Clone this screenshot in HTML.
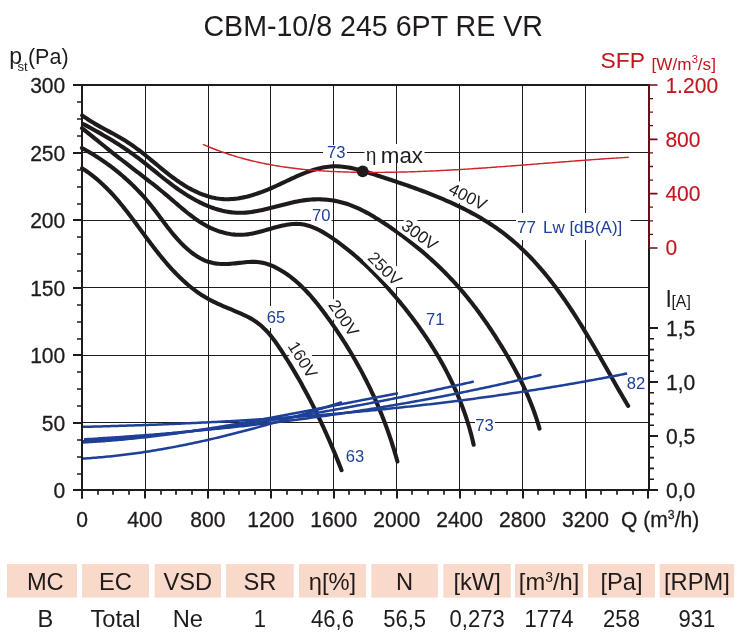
<!DOCTYPE html>
<html><head><meta charset="utf-8"><title>CBM-10/8 245 6PT RE VR</title>
<style>html,body{margin:0;padding:0;background:#fff;}body{width:740px;height:640px;overflow:hidden;}svg{display:block;}text{font-family:'Liberation Sans', Arial, sans-serif;}</style></head><body>
<svg width="740" height="640" viewBox="0 0 740 640">
<rect width="740" height="640" fill="#fff"/>
<text x="373.20" y="35.60" font-size="28.60" fill="#1f1b1c" text-anchor="middle">CBM-10/8 245 6PT RE VR</text>
<text x="9.30" y="64.00" font-size="23.00" fill="#1f1b1c">p<tspan font-size="13.2" dx="-4.6" dy="7.4">st</tspan><tspan font-size="21.5" dx="0.2" dy="-7.4">(Pa)</tspan></text>
<text transform="translate(600.50 68.30) scale(1.060 1)" font-size="21.60" fill="#c2161f">SFP<tspan font-size="16.2" dx="6.2" dy="1.2">[W/m</tspan><tspan font-size="10.5" dy="-7">3</tspan><tspan font-size="16.2" dy="7">/s]</tspan></text>
<path d="M145.5,85V490 M208.5,85V490 M270.5,85V490 M333.5,85V490 M396.5,85V490 M459.5,85V490 M522.5,85V490 M585.5,85V490 M82,152.5H649 M82,220.5H649 M82,287.5H649 M82,355.5H649 M82,422.5H649" stroke="#1f1b1c" stroke-width="1" fill="none"/>
<path d="M82.16,115.35 L83.78,116.54 L85.42,117.70 L87.08,118.82 L88.76,119.92 L90.45,121.00 L92.16,122.06 L93.88,123.09 L95.61,124.11 L97.36,125.12 L99.11,126.11 L100.87,127.08 L102.64,128.05 L104.41,129.02 L106.18,129.98 L107.96,130.93 L109.73,131.89 L111.50,132.85 L113.28,133.81 L115.04,134.78 L116.81,135.75 L118.56,136.74 L120.31,137.74 L122.04,138.76 L123.77,139.79 L125.48,140.84 L127.18,141.91 L128.86,143.01 L130.53,144.12 L132.18,145.26 L133.82,146.42 L135.45,147.60 L137.06,148.79 L138.67,150.00 L140.27,151.23 L141.85,152.46 L143.43,153.71 L145.01,154.97 L146.57,156.24 L148.14,157.51 L149.69,158.79 L151.25,160.08 L152.80,161.36 L154.35,162.65 L155.90,163.94 L157.46,165.23 L159.01,166.52 L160.57,167.80 L162.13,169.08 L163.69,170.35 L165.26,171.61 L166.83,172.87 L168.42,174.11 L170.01,175.34 L171.60,176.56 L173.21,177.76 L174.83,178.95 L176.46,180.12 L178.11,181.27 L179.77,182.40 L181.44,183.51 L183.12,184.59 L184.83,185.65 L186.55,186.68 L188.28,187.69 L190.03,188.66 L191.79,189.61 L193.57,190.52 L195.36,191.39 L197.16,192.23 L198.98,193.03 L200.81,193.79 L202.65,194.51 L204.51,195.18 L206.37,195.81 L208.25,196.39 L210.14,196.92 L212.04,197.40 L213.95,197.83 L215.87,198.20 L217.81,198.52 L219.75,198.78 L221.70,198.98 L223.66,199.12 L225.62,199.19 L227.60,199.21 L229.58,199.16 L231.57,199.06 L233.56,198.91 L235.56,198.70 L237.56,198.44 L239.56,198.13 L241.56,197.77 L243.56,197.37 L245.56,196.93 L247.56,196.45 L249.55,195.92 L251.54,195.36 L253.52,194.77 L255.50,194.15 L257.47,193.49 L259.43,192.81 L261.38,192.10 L263.32,191.37 L265.25,190.62 L267.17,189.84 L269.08,189.05 L270.96,188.25 L272.84,187.43 L274.70,186.59 L276.54,185.75 L278.38,184.91 L280.21,184.05 L282.02,183.20 L283.84,182.34 L285.64,181.48 L287.45,180.63 L289.25,179.78 L291.05,178.93 L292.85,178.10 L294.65,177.27 L296.46,176.46 L298.27,175.66 L300.09,174.88 L301.92,174.11 L303.76,173.37 L305.61,172.65 L307.47,171.95 L309.35,171.28 L311.24,170.64 L313.14,170.03 L315.05,169.45 L316.98,168.92 L318.91,168.42 L320.85,167.97 L322.80,167.57 L324.76,167.22 L326.72,166.92 L328.69,166.68 L330.66,166.49 L332.63,166.37 L334.61,166.31 L336.59,166.32 L338.57,166.39 L340.55,166.51 L342.53,166.69 L344.51,166.92 L346.50,167.20 L348.48,167.52 L350.46,167.89 L352.44,168.29 L354.42,168.73 L356.39,169.21 L358.37,169.71 L360.34,170.24 L362.31,170.79 L364.27,171.36 L366.24,171.95 L368.19,172.56 L370.15,173.17 L372.10,173.79 L374.04,174.42 L375.98,175.05 L377.92,175.68 L379.84,176.31 L381.77,176.93 L383.68,177.56 L385.60,178.18 L387.50,178.81 L389.41,179.44 L391.31,180.06 L393.20,180.69 L395.10,181.32 L396.98,181.95 L398.87,182.59 L400.75,183.22 L402.63,183.87 L404.51,184.51 L406.38,185.16 L408.26,185.81 L410.13,186.46 L411.99,187.13 L413.86,187.79 L415.73,188.46 L417.59,189.14 L419.46,189.83 L421.32,190.52 L423.19,191.22 L425.05,191.92 L426.91,192.64 L428.78,193.36 L430.64,194.09 L432.51,194.83 L434.37,195.58 L436.23,196.33 L438.10,197.10 L439.96,197.88 L441.82,198.66 L443.68,199.46 L445.54,200.26 L447.39,201.08 L449.24,201.90 L451.09,202.73 L452.94,203.58 L454.78,204.43 L456.62,205.30 L458.45,206.17 L460.28,207.06 L462.10,207.96 L463.92,208.87 L465.73,209.79 L467.53,210.72 L469.33,211.66 L471.12,212.62 L472.91,213.59 L474.69,214.56 L476.46,215.55 L478.22,216.56 L479.97,217.57 L481.72,218.60 L483.45,219.64 L485.18,220.69 L486.89,221.76 L488.60,222.84 L490.29,223.93 L491.98,225.04 L493.65,226.15 L495.31,227.29 L496.96,228.43 L498.60,229.59 L500.22,230.77 L501.84,231.95 L503.43,233.16 L505.02,234.37 L506.59,235.60 L508.15,236.85 L509.70,238.10 L511.24,239.38 L512.76,240.66 L514.27,241.96 L515.77,243.26 L517.26,244.59 L518.74,245.92 L520.20,247.27 L521.66,248.63 L523.10,250.00 L524.53,251.38 L525.95,252.77 L527.36,254.18 L528.76,255.59 L530.14,257.02 L531.52,258.46 L532.89,259.91 L534.24,261.36 L535.59,262.83 L536.93,264.31 L538.26,265.80 L539.57,267.30 L540.88,268.81 L542.18,270.32 L543.47,271.85 L544.75,273.38 L546.02,274.93 L547.29,276.48 L548.54,278.04 L549.79,279.61 L551.02,281.19 L552.25,282.77 L553.47,284.37 L554.69,285.97 L555.89,287.58 L557.09,289.19 L558.28,290.81 L559.46,292.44 L560.64,294.08 L561.81,295.72 L562.97,297.37 L564.13,299.02 L565.27,300.68 L566.41,302.34 L567.55,304.02 L568.68,305.69 L569.80,307.37 L570.92,309.06 L572.03,310.75 L573.13,312.45 L574.23,314.15 L575.33,315.85 L576.42,317.56 L577.50,319.27 L578.58,320.99 L579.65,322.71 L580.72,324.43 L581.79,326.16 L582.84,327.89 L583.90,329.62 L584.95,331.36 L586.00,333.10 L587.04,334.84 L588.08,336.58 L589.12,338.32 L590.15,340.07 L591.18,341.81 L592.20,343.56 L593.23,345.31 L594.25,347.06 L595.26,348.81 L596.28,350.57 L597.29,352.32 L598.30,354.07 L599.30,355.82 L600.31,357.58 L601.31,359.33 L602.31,361.08 L603.31,362.83 L604.31,364.59 L605.30,366.34 L606.30,368.08 L607.29,369.83 L608.29,371.58 L609.28,373.32 L610.27,375.06 L611.26,376.81 L612.25,378.54 L613.24,380.28 L614.23,382.01 L615.22,383.74 L616.20,385.47 L617.19,387.19 L618.18,388.92 L619.17,390.63 L620.17,392.35 L621.16,394.06 L622.15,395.76 L623.14,397.46 L624.14,399.16 L625.13,400.85 L626.13,402.54 L627.13,404.23 L628.13,405.90" stroke="#1f1b1c" stroke-width="4.1" fill="none" stroke-linecap="round" stroke-linejoin="round"/>
<path d="M83.57,124.19 L85.35,125.14 L87.12,126.09 L88.89,127.04 L90.66,128.00 L92.43,128.97 L94.19,129.94 L95.95,130.92 L97.70,131.90 L99.45,132.89 L101.20,133.89 L102.94,134.90 L104.68,135.91 L106.41,136.93 L108.14,137.95 L109.86,138.99 L111.57,140.03 L113.28,141.08 L114.99,142.14 L116.69,143.20 L118.38,144.28 L120.06,145.36 L121.74,146.46 L123.41,147.56 L125.08,148.68 L126.73,149.80 L128.38,150.94 L130.02,152.08 L131.66,153.24 L133.28,154.41 L134.90,155.59 L136.50,156.78 L138.10,157.98 L139.69,159.19 L141.27,160.41 L142.85,161.64 L144.42,162.88 L145.99,164.13 L147.55,165.38 L149.11,166.63 L150.67,167.89 L152.23,169.16 L153.79,170.42 L155.35,171.69 L156.90,172.95 L158.47,174.22 L160.03,175.48 L161.60,176.74 L163.17,177.99 L164.75,179.24 L166.34,180.49 L167.93,181.73 L169.54,182.96 L171.15,184.18 L172.77,185.39 L174.40,186.59 L176.04,187.78 L177.70,188.96 L179.37,190.12 L181.05,191.27 L182.74,192.40 L184.45,193.52 L186.16,194.61 L187.89,195.69 L189.63,196.75 L191.38,197.78 L193.14,198.79 L194.90,199.77 L196.68,200.73 L198.47,201.66 L200.27,202.56 L202.08,203.44 L203.90,204.28 L205.72,205.09 L207.56,205.87 L209.40,206.61 L211.25,207.31 L213.11,207.98 L214.97,208.62 L216.84,209.21 L218.72,209.76 L220.61,210.27 L222.50,210.74 L224.40,211.16 L226.31,211.54 L228.22,211.87 L230.14,212.16 L232.06,212.39 L233.99,212.57 L235.92,212.71 L237.86,212.79 L239.80,212.81 L241.75,212.79 L243.70,212.71 L245.65,212.58 L247.61,212.41 L249.57,212.19 L251.54,211.93 L253.51,211.64 L255.48,211.31 L257.45,210.95 L259.43,210.56 L261.41,210.14 L263.39,209.71 L265.38,209.25 L267.37,208.77 L269.36,208.28 L271.35,207.77 L273.34,207.26 L275.34,206.74 L277.34,206.22 L279.34,205.70 L281.34,205.17 L283.34,204.66 L285.34,204.15 L287.34,203.65 L289.35,203.17 L291.35,202.70 L293.36,202.25 L295.36,201.82 L297.37,201.42 L299.38,201.04 L301.38,200.70 L303.39,200.38 L305.39,200.11 L307.40,199.87 L309.40,199.67 L311.40,199.52 L313.40,199.41 L315.40,199.33 L317.40,199.30 L319.39,199.32 L321.38,199.37 L323.36,199.46 L325.34,199.60 L327.32,199.77 L329.28,199.99 L331.24,200.25 L333.20,200.55 L335.14,200.89 L337.08,201.27 L339.01,201.69 L340.92,202.16 L342.83,202.66 L344.73,203.21 L346.62,203.79 L348.49,204.42 L350.35,205.08 L352.20,205.79 L354.04,206.53 L355.87,207.30 L357.69,208.11 L359.50,208.95 L361.30,209.82 L363.09,210.72 L364.87,211.64 L366.64,212.59 L368.40,213.56 L370.15,214.55 L371.90,215.57 L373.64,216.60 L375.37,217.64 L377.09,218.70 L378.81,219.78 L380.52,220.86 L382.22,221.96 L383.91,223.06 L385.61,224.17 L387.29,225.29 L388.97,226.42 L390.64,227.55 L392.31,228.69 L393.96,229.84 L395.62,231.00 L397.26,232.17 L398.90,233.34 L400.54,234.53 L402.16,235.72 L403.78,236.92 L405.39,238.12 L407.00,239.34 L408.60,240.56 L410.19,241.79 L411.77,243.03 L413.35,244.28 L414.92,245.53 L416.48,246.80 L418.04,248.07 L419.59,249.35 L421.13,250.63 L422.66,251.93 L424.19,253.23 L425.70,254.54 L427.22,255.86 L428.72,257.19 L430.21,258.52 L431.70,259.86 L433.18,261.22 L434.65,262.58 L436.11,263.94 L437.57,265.32 L439.01,266.70 L440.45,268.09 L441.88,269.49 L443.30,270.90 L444.72,272.31 L446.12,273.74 L447.52,275.17 L448.90,276.61 L450.28,278.05 L451.65,279.51 L453.01,280.97 L454.37,282.44 L455.71,283.92 L457.05,285.41 L458.37,286.90 L459.69,288.40 L461.00,289.91 L462.30,291.43 L463.59,292.95 L464.88,294.48 L466.16,296.02 L467.42,297.57 L468.68,299.12 L469.93,300.69 L471.18,302.25 L472.41,303.83 L473.64,305.41 L474.86,307.00 L476.07,308.60 L477.27,310.20 L478.47,311.81 L479.65,313.43 L480.83,315.05 L482.00,316.68 L483.17,318.32 L484.32,319.96 L485.47,321.61 L486.61,323.26 L487.75,324.92 L488.87,326.59 L489.99,328.26 L491.11,329.94 L492.22,331.61 L493.32,333.30 L494.41,334.98 L495.50,336.67 L496.59,338.37 L497.66,340.06 L498.74,341.76 L499.80,343.47 L500.87,345.17 L501.92,346.88 L502.97,348.59 L504.01,350.31 L505.04,352.03 L506.07,353.75 L507.09,355.47 L508.11,357.20 L509.11,358.94 L510.11,360.67 L511.10,362.42 L512.08,364.16 L513.05,365.91 L514.01,367.67 L514.97,369.42 L515.91,371.19 L516.85,372.96 L517.77,374.73 L518.69,376.51 L519.60,378.29 L520.49,380.08 L521.38,381.87 L522.25,383.67 L523.12,385.47 L523.97,387.28 L524.81,389.09 L525.64,390.91 L526.46,392.74 L527.27,394.57 L528.06,396.41 L528.84,398.25 L529.61,400.10 L530.37,401.96 L531.11,403.82 L531.84,405.69 L532.56,407.56 L533.26,409.45 L533.95,411.33 L534.63,413.23 L535.29,415.13 L535.94,417.04 L536.57,418.96 L537.18,420.88 L537.79,422.81 L538.37,424.75 L538.95,426.70 L539.50,428.65" stroke="#1f1b1c" stroke-width="4.1" fill="none" stroke-linecap="round" stroke-linejoin="round"/>
<path d="M81.98,128.17 L83.52,129.42 L85.07,130.67 L86.62,131.92 L88.17,133.18 L89.73,134.43 L91.28,135.69 L92.85,136.95 L94.41,138.20 L95.97,139.46 L97.54,140.72 L99.11,141.98 L100.68,143.24 L102.25,144.50 L103.83,145.76 L105.40,147.02 L106.98,148.27 L108.56,149.53 L110.13,150.78 L111.71,152.04 L113.30,153.29 L114.88,154.54 L116.46,155.78 L118.04,157.03 L119.63,158.27 L121.21,159.51 L122.79,160.75 L124.38,161.98 L125.96,163.21 L127.55,164.44 L129.13,165.67 L130.71,166.89 L132.30,168.11 L133.88,169.33 L135.46,170.54 L137.04,171.76 L138.62,172.97 L140.20,174.19 L141.78,175.40 L143.35,176.62 L144.93,177.84 L146.50,179.06 L148.08,180.29 L149.65,181.52 L151.22,182.75 L152.79,183.98 L154.35,185.22 L155.92,186.47 L157.48,187.72 L159.04,188.98 L160.60,190.24 L162.16,191.51 L163.71,192.79 L165.26,194.08 L166.81,195.38 L168.36,196.68 L169.90,198.00 L171.45,199.32 L172.99,200.64 L174.53,201.97 L176.08,203.30 L177.62,204.63 L179.17,205.96 L180.73,207.28 L182.28,208.59 L183.85,209.90 L185.42,211.19 L187.00,212.47 L188.58,213.73 L190.18,214.97 L191.79,216.20 L193.41,217.40 L195.04,218.58 L196.68,219.74 L198.34,220.86 L200.01,221.96 L201.70,223.02 L203.40,224.05 L205.13,225.04 L206.87,226.00 L208.63,226.91 L210.41,227.79 L212.21,228.61 L214.03,229.40 L215.87,230.13 L217.72,230.82 L219.59,231.46 L221.48,232.04 L223.38,232.58 L225.29,233.06 L227.21,233.48 L229.15,233.85 L231.09,234.16 L233.05,234.41 L235.01,234.60 L236.98,234.73 L238.95,234.79 L240.94,234.78 L242.92,234.71 L244.91,234.57 L246.90,234.37 L248.89,234.10 L250.88,233.77 L252.88,233.39 L254.87,232.97 L256.87,232.51 L258.86,232.01 L260.86,231.49 L262.85,230.94 L264.85,230.38 L266.84,229.81 L268.83,229.23 L270.82,228.66 L272.81,228.09 L274.79,227.54 L276.77,227.00 L278.75,226.49 L280.72,226.01 L282.68,225.56 L284.64,225.16 L286.60,224.80 L288.55,224.49 L290.49,224.24 L292.42,224.06 L294.35,223.94 L296.26,223.90 L298.17,223.94 L300.06,224.07 L301.95,224.28 L303.83,224.59 L305.69,224.98 L307.55,225.46 L309.39,226.01 L311.22,226.63 L313.04,227.32 L314.85,228.07 L316.65,228.89 L318.44,229.76 L320.21,230.68 L321.98,231.64 L323.73,232.65 L325.47,233.69 L327.20,234.77 L328.92,235.88 L330.63,237.01 L332.32,238.15 L334.01,239.32 L335.68,240.49 L337.34,241.68 L338.98,242.88 L340.62,244.09 L342.24,245.31 L343.85,246.54 L345.46,247.78 L347.05,249.04 L348.63,250.30 L350.19,251.58 L351.75,252.86 L353.30,254.16 L354.84,255.46 L356.37,256.78 L357.88,258.10 L359.39,259.44 L360.89,260.78 L362.38,262.13 L363.85,263.49 L365.32,264.86 L366.78,266.24 L368.23,267.63 L369.68,269.03 L371.11,270.43 L372.53,271.84 L373.95,273.27 L375.36,274.69 L376.76,276.13 L378.15,277.58 L379.54,279.03 L380.91,280.49 L382.28,281.95 L383.64,283.42 L384.99,284.90 L386.34,286.39 L387.68,287.88 L389.01,289.38 L390.34,290.89 L391.66,292.40 L392.97,293.92 L394.28,295.44 L395.58,296.97 L396.87,298.51 L398.16,300.05 L399.44,301.59 L400.72,303.14 L401.99,304.70 L403.25,306.26 L404.51,307.83 L405.76,309.40 L407.00,310.98 L408.24,312.56 L409.47,314.15 L410.70,315.74 L411.91,317.34 L413.12,318.94 L414.32,320.55 L415.52,322.17 L416.70,323.79 L417.88,325.41 L419.05,327.05 L420.22,328.68 L421.37,330.32 L422.52,331.97 L423.66,333.62 L424.79,335.28 L425.92,336.95 L427.03,338.62 L428.14,340.29 L429.23,341.97 L430.32,343.65 L431.40,345.34 L432.47,347.04 L433.54,348.74 L434.59,350.45 L435.63,352.16 L436.67,353.88 L437.69,355.60 L438.71,357.33 L439.71,359.06 L440.71,360.80 L441.69,362.55 L442.67,364.30 L443.63,366.05 L444.59,367.81 L445.53,369.58 L446.47,371.35 L447.39,373.13 L448.30,374.91 L449.21,376.70 L450.10,378.49 L450.98,380.29 L451.85,382.10 L452.71,383.91 L453.55,385.72 L454.39,387.54 L455.21,389.37 L456.02,391.20 L456.83,393.04 L457.61,394.88 L458.39,396.73 L459.16,398.58 L459.91,400.44 L460.65,402.31 L461.38,404.18 L462.09,406.05 L462.80,407.93 L463.49,409.82 L464.17,411.71 L464.83,413.61 L465.48,415.51 L466.12,417.42 L466.75,419.33 L467.36,421.25 L467.96,423.18 L468.55,425.11 L469.12,427.04 L469.68,428.99 L470.22,430.93 L470.75,432.88 L471.27,434.84 L471.77,436.81 L472.26,438.77 L472.73,440.75 L473.19,442.73 L473.64,444.71" stroke="#1f1b1c" stroke-width="4.1" fill="none" stroke-linecap="round" stroke-linejoin="round"/>
<path d="M81.97,147.98 L83.74,148.96 L85.51,149.95 L87.27,150.95 L89.02,151.97 L90.75,153.00 L92.48,154.05 L94.20,155.11 L95.91,156.18 L97.60,157.27 L99.29,158.37 L100.97,159.48 L102.63,160.61 L104.29,161.75 L105.93,162.91 L107.57,164.08 L109.19,165.26 L110.80,166.46 L112.40,167.67 L113.99,168.89 L115.57,170.13 L117.13,171.38 L118.69,172.65 L120.23,173.92 L121.76,175.22 L123.28,176.52 L124.79,177.84 L126.29,179.17 L127.77,180.52 L129.25,181.88 L130.71,183.25 L132.15,184.64 L133.59,186.04 L135.01,187.45 L136.42,188.88 L137.82,190.32 L139.21,191.77 L140.58,193.24 L141.94,194.72 L143.28,196.21 L144.62,197.72 L145.94,199.24 L147.24,200.77 L148.54,202.31 L149.81,203.87 L151.08,205.44 L152.34,207.03 L153.58,208.62 L154.81,210.22 L156.04,211.83 L157.26,213.45 L158.48,215.07 L159.69,216.69 L160.91,218.31 L162.12,219.94 L163.33,221.56 L164.55,223.18 L165.77,224.80 L167.00,226.41 L168.24,228.01 L169.49,229.61 L170.74,231.19 L172.01,232.76 L173.30,234.32 L174.59,235.87 L175.91,237.40 L177.24,238.92 L178.60,240.41 L179.97,241.88 L181.37,243.34 L182.80,244.77 L184.25,246.17 L185.72,247.55 L187.23,248.91 L188.77,250.23 L190.34,251.52 L191.93,252.77 L193.56,253.98 L195.22,255.14 L196.90,256.25 L198.61,257.30 L200.35,258.29 L202.11,259.21 L203.90,260.05 L205.72,260.82 L207.56,261.50 L209.42,262.09 L211.30,262.60 L213.21,263.02 L215.14,263.36 L217.08,263.62 L219.04,263.81 L221.02,263.93 L223.00,264.00 L225.00,264.00 L227.01,263.96 L229.03,263.87 L231.05,263.73 L233.08,263.56 L235.11,263.36 L237.15,263.14 L239.18,262.91 L241.21,262.67 L243.24,262.45 L245.26,262.24 L247.28,262.07 L249.29,261.93 L251.29,261.85 L253.28,261.82 L255.25,261.86 L257.22,261.98 L259.16,262.20 L261.09,262.50 L263.00,262.88 L264.89,263.34 L266.77,263.88 L268.63,264.50 L270.47,265.18 L272.28,265.92 L274.08,266.72 L275.86,267.58 L277.62,268.48 L279.35,269.44 L281.07,270.43 L282.76,271.47 L284.43,272.53 L286.08,273.63 L287.71,274.77 L289.31,275.93 L290.90,277.13 L292.46,278.35 L294.01,279.61 L295.53,280.89 L297.04,282.19 L298.53,283.53 L300.00,284.88 L301.45,286.27 L302.89,287.67 L304.30,289.10 L305.71,290.54 L307.10,292.01 L308.47,293.49 L309.83,294.99 L311.17,296.51 L312.50,298.05 L313.81,299.60 L315.12,301.16 L316.41,302.74 L317.69,304.33 L318.95,305.93 L320.21,307.54 L321.45,309.16 L322.69,310.79 L323.91,312.42 L325.13,314.06 L326.34,315.71 L327.53,317.36 L328.72,319.02 L329.91,320.67 L331.08,322.33 L332.25,324.00 L333.41,325.66 L334.56,327.33 L335.70,329.00 L336.84,330.68 L337.96,332.36 L339.08,334.04 L340.20,335.72 L341.30,337.41 L342.40,339.10 L343.48,340.80 L344.56,342.50 L345.64,344.20 L346.70,345.90 L347.76,347.61 L348.80,349.32 L349.85,351.04 L350.88,352.75 L351.90,354.48 L352.92,356.20 L353.93,357.93 L354.93,359.66 L355.92,361.40 L356.90,363.14 L357.88,364.89 L358.85,366.63 L359.81,368.38 L360.76,370.14 L361.71,371.90 L362.64,373.66 L363.57,375.43 L364.49,377.20 L365.40,378.98 L366.31,380.75 L367.20,382.54 L368.09,384.32 L368.97,386.11 L369.84,387.91 L370.71,389.71 L371.56,391.51 L372.41,393.32 L373.25,395.13 L374.08,396.95 L374.90,398.77 L375.71,400.59 L376.52,402.42 L377.32,404.26 L378.11,406.09 L378.89,407.94 L379.66,409.78 L380.43,411.63 L381.19,413.49 L381.93,415.35 L382.67,417.22 L383.41,419.09 L384.13,420.96 L384.85,422.84 L385.55,424.72 L386.25,426.61 L386.94,428.50 L387.63,430.40 L388.30,432.31 L388.97,434.21 L389.62,436.13 L390.27,438.04 L390.91,439.97 L391.55,441.89 L392.17,443.83 L392.79,445.76 L393.39,447.71 L393.99,449.65 L394.58,451.61 L395.16,453.57 L395.74,455.53 L396.30,457.50 L396.86,459.47 L397.41,461.45" stroke="#1f1b1c" stroke-width="4.1" fill="none" stroke-linecap="round" stroke-linejoin="round"/>
<path d="M82.03,168.28 L83.78,169.41 L85.51,170.56 L87.21,171.73 L88.88,172.92 L90.52,174.14 L92.14,175.37 L93.74,176.62 L95.31,177.90 L96.86,179.19 L98.39,180.49 L99.90,181.82 L101.39,183.16 L102.85,184.52 L104.30,185.89 L105.73,187.28 L107.14,188.69 L108.54,190.11 L109.91,191.54 L111.28,192.99 L112.62,194.45 L113.96,195.93 L115.28,197.41 L116.59,198.91 L117.88,200.42 L119.17,201.94 L120.44,203.47 L121.70,205.01 L122.96,206.56 L124.20,208.12 L125.44,209.68 L126.68,211.26 L127.90,212.84 L129.12,214.43 L130.34,216.03 L131.55,217.63 L132.75,219.24 L133.96,220.85 L135.16,222.47 L136.36,224.09 L137.57,225.72 L138.77,227.35 L139.97,228.98 L141.17,230.61 L142.38,232.25 L143.59,233.88 L144.80,235.52 L146.01,237.16 L147.23,238.79 L148.45,240.43 L149.67,242.06 L150.90,243.68 L152.14,245.31 L153.38,246.93 L154.62,248.55 L155.87,250.16 L157.13,251.76 L158.40,253.36 L159.67,254.95 L160.95,256.53 L162.24,258.10 L163.53,259.67 L164.84,261.22 L166.16,262.76 L167.48,264.29 L168.82,265.81 L170.16,267.32 L171.52,268.82 L172.89,270.30 L174.27,271.76 L175.66,273.21 L177.07,274.65 L178.48,276.06 L179.91,277.47 L181.36,278.85 L182.82,280.21 L184.29,281.56 L185.78,282.89 L187.29,284.19 L188.81,285.48 L190.34,286.74 L191.90,287.98 L193.47,289.20 L195.05,290.40 L196.66,291.57 L198.28,292.71 L199.93,293.84 L201.59,294.93 L203.27,296.00 L204.97,297.04 L206.69,298.05 L208.43,299.04 L210.19,299.99 L211.97,300.92 L213.77,301.82 L215.59,302.70 L217.42,303.56 L219.26,304.40 L221.11,305.23 L222.97,306.04 L224.84,306.84 L226.71,307.63 L228.59,308.42 L230.46,309.20 L232.34,309.98 L234.21,310.77 L236.07,311.55 L237.93,312.35 L239.79,313.15 L241.63,313.96 L243.45,314.79 L245.26,315.64 L247.05,316.51 L248.82,317.42 L250.56,318.36 L252.27,319.35 L253.95,320.38 L255.59,321.46 L257.19,322.60 L258.75,323.79 L260.28,325.03 L261.77,326.31 L263.23,327.65 L264.65,329.02 L266.05,330.44 L267.41,331.90 L268.74,333.39 L270.04,334.92 L271.31,336.48 L272.56,338.07 L273.78,339.68 L274.99,341.32 L276.17,342.98 L277.33,344.65 L278.48,346.34 L279.62,348.03 L280.75,349.73 L281.87,351.44 L282.98,353.15 L284.08,354.86 L285.18,356.57 L286.27,358.29 L287.35,360.01 L288.42,361.73 L289.49,363.45 L290.55,365.18 L291.60,366.91 L292.64,368.64 L293.68,370.38 L294.71,372.12 L295.74,373.86 L296.75,375.61 L297.76,377.35 L298.76,379.10 L299.76,380.86 L300.75,382.61 L301.73,384.37 L302.71,386.13 L303.67,387.90 L304.64,389.66 L305.59,391.43 L306.54,393.21 L307.49,394.98 L308.42,396.76 L309.36,398.54 L310.28,400.33 L311.20,402.11 L312.11,403.90 L313.02,405.70 L313.92,407.49 L314.82,409.29 L315.71,411.09 L316.59,412.89 L317.47,414.70 L318.34,416.51 L319.21,418.32 L320.07,420.13 L320.93,421.95 L321.78,423.77 L322.63,425.59 L323.47,427.42 L324.31,429.25 L325.14,431.08 L325.96,432.91 L326.78,434.75 L327.60,436.59 L328.41,438.43 L329.22,440.28 L330.02,442.12 L330.82,443.98 L331.61,445.83 L332.40,447.68 L333.18,449.54 L333.96,451.40 L334.74,453.27 L335.51,455.14 L336.28,457.01 L337.04,458.88 L337.80,460.75 L338.55,462.63 L339.30,464.51 L340.05,466.39 L340.79,468.28 L341.53,470.17" stroke="#1f1b1c" stroke-width="4.1" fill="none" stroke-linecap="round" stroke-linejoin="round"/>
<path d="M202.83,144.32 L204.71,145.14 L206.59,145.94 L208.47,146.73 L210.36,147.51 L212.25,148.27 L214.15,149.01 L216.05,149.74 L217.95,150.46 L219.85,151.16 L221.76,151.84 L223.67,152.51 L225.58,153.17 L227.49,153.81 L229.41,154.44 L231.33,155.05 L233.25,155.65 L235.18,156.24 L237.10,156.82 L239.03,157.38 L240.97,157.92 L242.90,158.46 L244.84,158.98 L246.78,159.49 L248.72,159.99 L250.66,160.47 L252.61,160.94 L254.56,161.40 L256.51,161.85 L258.46,162.29 L260.42,162.71 L262.38,163.12 L264.33,163.53 L266.30,163.92 L268.26,164.30 L270.22,164.66 L272.19,165.02 L274.16,165.37 L276.13,165.71 L278.10,166.03 L280.07,166.35 L282.05,166.65 L284.03,166.95 L286.00,167.24 L287.99,167.51 L289.97,167.78 L291.95,168.04 L293.93,168.29 L295.92,168.53 L297.91,168.76 L299.90,168.98 L301.89,169.19 L303.88,169.40 L305.87,169.60 L307.86,169.78 L309.86,169.97 L311.85,170.14 L313.85,170.30 L315.85,170.46 L317.85,170.61 L319.85,170.75 L321.85,170.89 L323.85,171.02 L325.85,171.14 L327.85,171.26 L329.86,171.37 L331.86,171.47 L333.87,171.56 L335.87,171.65 L337.88,171.74 L339.89,171.82 L341.89,171.89 L343.90,171.96 L345.91,172.02 L347.92,172.08 L349.93,172.13 L351.94,172.17 L353.95,172.22 L355.96,172.25 L357.97,172.29 L359.98,172.31 L361.99,172.34 L364.00,172.36 L366.01,172.37 L368.02,172.39 L370.03,172.39 L372.04,172.40 L374.06,172.40 L376.07,172.40 L378.08,172.39 L380.09,172.38 L382.10,172.37 L384.11,172.35 L386.12,172.33 L388.14,172.30 L390.15,172.27 L392.16,172.24 L394.17,172.21 L396.18,172.17 L398.19,172.13 L400.21,172.08 L402.22,172.04 L404.23,171.99 L406.24,171.93 L408.25,171.88 L410.26,171.82 L412.28,171.75 L414.29,171.69 L416.30,171.62 L418.31,171.55 L420.32,171.47 L422.34,171.40 L424.35,171.32 L426.36,171.23 L428.37,171.15 L430.38,171.06 L432.39,170.97 L434.41,170.88 L436.42,170.79 L438.43,170.69 L440.44,170.59 L442.45,170.49 L444.46,170.38 L446.48,170.28 L448.49,170.17 L450.50,170.06 L452.51,169.95 L454.52,169.83 L456.53,169.72 L458.54,169.60 L460.55,169.48 L462.56,169.36 L464.58,169.23 L466.59,169.11 L468.60,168.98 L470.61,168.85 L472.62,168.72 L474.63,168.59 L476.64,168.45 L478.65,168.32 L480.66,168.18 L482.67,168.05 L484.68,167.91 L486.69,167.77 L488.70,167.62 L490.70,167.48 L492.71,167.34 L494.72,167.19 L496.73,167.05 L498.74,166.90 L500.75,166.75 L502.76,166.60 L504.77,166.45 L506.77,166.30 L508.78,166.15 L510.79,166.00 L512.80,165.84 L514.80,165.69 L516.81,165.53 L518.82,165.38 L520.82,165.22 L522.83,165.07 L524.84,164.91 L526.84,164.75 L528.85,164.60 L530.86,164.44 L532.86,164.28 L534.87,164.12 L536.87,163.96 L538.88,163.81 L540.88,163.65 L542.89,163.49 L544.89,163.33 L546.89,163.17 L548.90,163.01 L550.90,162.85 L552.90,162.70 L554.91,162.54 L556.91,162.38 L558.91,162.22 L560.91,162.07 L562.92,161.91 L564.92,161.75 L566.92,161.60 L568.92,161.44 L570.92,161.29 L572.92,161.13 L574.92,160.98 L576.92,160.83 L578.92,160.68 L580.92,160.52 L582.92,160.37 L584.92,160.23 L586.92,160.08 L588.92,159.93 L590.91,159.78 L592.91,159.64 L594.91,159.49 L596.91,159.35 L598.90,159.21 L600.90,159.07 L602.89,158.93 L604.89,158.79 L606.88,158.65 L608.88,158.52 L610.87,158.38 L612.87,158.25 L614.86,158.12 L616.85,157.99 L618.85,157.87 L620.84,157.74 L622.83,157.62 L624.82,157.49 L626.82,157.37 L628.81,157.25" stroke="#cf2229" stroke-width="1.45" fill="none"/>
<path d="M81.48,426.89 L83.49,426.84 L85.50,426.80 L87.51,426.75 L89.52,426.70 L91.53,426.65 L93.54,426.60 L95.55,426.55 L97.56,426.49 L99.57,426.44 L101.58,426.39 L103.59,426.33 L105.60,426.28 L107.61,426.22 L109.62,426.16 L111.63,426.11 L113.64,426.05 L115.65,425.99 L117.66,425.93 L119.68,425.87 L121.69,425.81 L123.70,425.74 L125.71,425.68 L127.72,425.62 L129.73,425.55 L131.74,425.48 L133.75,425.42 L135.76,425.35 L137.77,425.28 L139.78,425.21 L141.79,425.14 L143.80,425.07 L145.81,425.00 L147.82,424.93 L149.83,424.85 L151.84,424.78 L153.85,424.70 L155.86,424.63 L157.87,424.55 L159.88,424.47 L161.88,424.39 L163.89,424.31 L165.90,424.23 L167.91,424.15 L169.92,424.07 L171.93,423.98 L173.94,423.90 L175.95,423.81 L177.96,423.73 L179.97,423.64 L181.98,423.55 L183.99,423.46 L186.00,423.37 L188.01,423.28 L190.02,423.19 L192.03,423.10 L194.03,423.00 L196.04,422.91 L198.05,422.81 L200.06,422.71 L202.07,422.62 L204.08,422.52 L206.09,422.42 L208.10,422.32 L210.10,422.22 L212.11,422.11 L214.12,422.01 L216.13,421.90 L218.14,421.80 L220.15,421.69 L222.15,421.58 L224.16,421.48 L226.17,421.37 L228.18,421.26 L230.19,421.14 L232.19,421.03 L234.20,420.92 L236.21,420.80 L238.22,420.69 L240.23,420.57 L242.23,420.45 L244.24,420.33 L246.25,420.21 L248.26,420.09 L250.26,419.97 L252.27,419.85 L254.28,419.72 L256.28,419.60 L258.29,419.47 L260.30,419.34 L262.30,419.21 L264.31,419.08 L266.32,418.95 L268.32,418.82 L270.33,418.69 L272.34,418.55 L274.34,418.42 L276.35,418.28 L278.35,418.14 L280.36,418.01 L282.37,417.87 L284.37,417.73 L286.38,417.58 L288.38,417.44 L290.39,417.30 L292.39,417.15 L294.40,417.00 L296.41,416.86 L298.41,416.71 L300.42,416.56 L302.42,416.41 L304.43,416.25 L306.43,416.10 L308.43,415.95 L310.44,415.79 L312.44,415.63 L314.45,415.47 L316.45,415.31 L318.46,415.15 L320.46,414.99 L322.46,414.83 L324.47,414.67 L326.47,414.50 L328.47,414.33 L330.48,414.17 L332.48,414.00 L334.48,413.83 L336.49,413.65 L338.49,413.48 L340.49,413.31 L342.50,413.13 L344.50,412.96 L346.50,412.78 L348.50,412.60 L350.51,412.42 L352.51,412.24 L354.51,412.05 L356.51,411.87 L358.51,411.69 L360.51,411.50 L362.52,411.31 L364.52,411.12 L366.52,410.93 L368.52,410.74 L370.52,410.55 L372.52,410.35 L374.52,410.16 L376.52,409.96 L378.52,409.76 L380.52,409.56 L382.52,409.36 L384.52,409.16 L386.52,408.96 L388.52,408.75 L390.52,408.55 L392.52,408.34 L394.52,408.13 L396.52,407.92 L398.52,407.71 L400.52,407.50 L402.52,407.28 L404.51,407.07 L406.51,406.85 L408.51,406.63 L410.51,406.41 L412.51,406.19 L414.50,405.97 L416.50,405.75 L418.50,405.52 L420.50,405.29 L422.49,405.07 L424.49,404.84 L426.49,404.61 L428.48,404.37 L430.48,404.14 L432.48,403.91 L434.47,403.67 L436.47,403.43 L438.46,403.19 L440.46,402.95 L442.46,402.71 L444.45,402.47 L446.45,402.22 L448.44,401.98 L450.44,401.73 L452.43,401.48 L454.43,401.23 L456.42,400.98 L458.41,400.72 L460.41,400.47 L462.40,400.21 L464.40,399.96 L466.39,399.70 L468.38,399.44 L470.37,399.17 L472.37,398.91 L474.36,398.64 L476.35,398.38 L478.35,398.11 L480.34,397.84 L482.33,397.57 L484.32,397.30 L486.31,397.02 L488.30,396.75 L490.30,396.47 L492.29,396.19 L494.28,395.91 L496.27,395.63 L498.26,395.34 L500.25,395.06 L502.24,394.77 L504.23,394.49 L506.22,394.20 L508.21,393.90 L510.20,393.61 L512.19,393.32 L514.17,393.02 L516.16,392.73 L518.15,392.43 L520.14,392.13 L522.13,391.82 L524.12,391.52 L526.10,391.22 L528.09,390.91 L530.08,390.60 L532.06,390.29 L534.05,389.98 L536.04,389.67 L538.02,389.35 L540.01,389.03 L542.00,388.72 L543.98,388.40 L545.97,388.08 L547.95,387.75 L549.94,387.43 L551.92,387.10 L553.91,386.77 L555.89,386.44 L557.88,386.11 L559.86,385.78 L561.84,385.45 L563.83,385.11 L565.81,384.77 L567.79,384.43 L569.78,384.09 L571.76,383.75 L573.74,383.41 L575.72,383.06 L577.71,382.71 L579.69,382.36 L581.67,382.01 L583.65,381.66 L585.63,381.30 L587.61,380.95 L589.59,380.59 L591.57,380.23 L593.55,379.87 L595.53,379.51 L597.51,379.14 L599.49,378.78 L601.47,378.41 L603.45,378.04 L605.43,377.67 L607.41,377.29 L609.38,376.92 L611.36,376.54 L613.34,376.16 L615.32,375.78 L617.29,375.40 L619.27,375.01 L621.25,374.63 L623.22,374.24 L625.20,373.85 L627.18,373.46" stroke="#1e4097" stroke-width="2.5" fill="none"/>
<path d="M84.02,439.37 L86.03,439.25 L88.04,439.12 L90.04,439.00 L92.05,438.88 L94.06,438.75 L96.06,438.63 L98.07,438.50 L100.07,438.37 L102.08,438.24 L104.09,438.11 L106.09,437.98 L108.10,437.85 L110.10,437.71 L112.11,437.58 L114.12,437.44 L116.12,437.30 L118.13,437.16 L120.13,437.02 L122.14,436.88 L124.14,436.74 L126.15,436.60 L128.16,436.45 L130.16,436.31 L132.17,436.16 L134.17,436.01 L136.18,435.86 L138.18,435.71 L140.19,435.56 L142.19,435.41 L144.20,435.26 L146.21,435.10 L148.21,434.94 L150.22,434.79 L152.22,434.63 L154.23,434.47 L156.23,434.31 L158.24,434.14 L160.24,433.98 L162.24,433.82 L164.25,433.65 L166.25,433.48 L168.26,433.31 L170.26,433.14 L172.27,432.97 L174.27,432.80 L176.28,432.63 L178.28,432.45 L180.28,432.27 L182.29,432.10 L184.29,431.92 L186.29,431.74 L188.30,431.56 L190.30,431.37 L192.30,431.19 L194.31,431.00 L196.31,430.82 L198.31,430.63 L200.32,430.44 L202.32,430.25 L204.32,430.06 L206.32,429.86 L208.33,429.67 L210.33,429.47 L212.33,429.27 L214.33,429.08 L216.34,428.88 L218.34,428.67 L220.34,428.47 L222.34,428.27 L224.34,428.06 L226.34,427.86 L228.34,427.65 L230.34,427.44 L232.35,427.23 L234.35,427.01 L236.35,426.80 L238.35,426.58 L240.35,426.37 L242.35,426.15 L244.35,425.93 L246.35,425.71 L248.35,425.49 L250.35,425.26 L252.35,425.04 L254.34,424.81 L256.34,424.58 L258.34,424.36 L260.34,424.12 L262.34,423.89 L264.34,423.66 L266.34,423.42 L268.33,423.19 L270.33,422.95 L272.33,422.71 L274.33,422.47 L276.32,422.23 L278.32,421.98 L280.32,421.74 L282.31,421.49 L284.31,421.24 L286.31,420.99 L288.30,420.74 L290.30,420.49 L292.29,420.23 L294.29,419.98 L296.28,419.72 L298.28,419.46 L300.27,419.20 L302.27,418.94 L304.26,418.67 L306.26,418.41 L308.25,418.14 L310.25,417.87 L312.24,417.60 L314.23,417.33 L316.23,417.06 L318.22,416.78 L320.21,416.51 L322.20,416.23 L324.20,415.95 L326.19,415.67 L328.18,415.39 L330.17,415.10 L332.16,414.82 L334.15,414.53 L336.14,414.24 L338.13,413.95 L340.12,413.66 L342.11,413.37 L344.10,413.07 L346.09,412.78 L348.08,412.48 L350.07,412.18 L352.06,411.88 L354.05,411.57 L356.04,411.27 L358.02,410.96 L360.01,410.65 L362.00,410.34 L363.99,410.03 L365.97,409.72 L367.96,409.41 L369.95,409.09 L371.93,408.77 L373.92,408.45 L375.90,408.13 L377.89,407.81 L379.87,407.48 L381.86,407.16 L383.84,406.83 L385.83,406.50 L387.81,406.17 L389.79,405.83 L391.78,405.50 L393.76,405.16 L395.74,404.82 L397.72,404.48 L399.71,404.14 L401.69,403.80 L403.67,403.45 L405.65,403.11 L407.63,402.76 L409.61,402.41 L411.59,402.05 L413.57,401.70 L415.55,401.34 L417.53,400.99 L419.51,400.63 L421.49,400.27 L423.46,399.90 L425.44,399.54 L427.42,399.17 L429.40,398.80 L431.37,398.43 L433.35,398.06 L435.33,397.69 L437.30,397.31 L439.28,396.94 L441.25,396.56 L443.23,396.18 L445.20,395.79 L447.18,395.41 L449.15,395.02 L451.12,394.63 L453.10,394.24 L455.07,393.85 L457.04,393.46 L459.01,393.06 L460.98,392.67 L462.96,392.27 L464.93,391.87 L466.90,391.46 L468.87,391.06 L470.84,390.65 L472.81,390.24 L474.77,389.83 L476.74,389.42 L478.71,389.01 L480.68,388.59 L482.65,388.17 L484.61,387.75 L486.58,387.33 L488.55,386.91 L490.51,386.48 L492.48,386.05 L494.44,385.63 L496.41,385.19 L498.37,384.76 L500.34,384.33 L502.30,383.89 L504.26,383.45 L506.22,383.01 L508.19,382.57 L510.15,382.12 L512.11,381.67 L514.07,381.22 L516.03,380.77 L517.99,380.32 L519.95,379.87 L521.91,379.41 L523.87,378.95 L525.83,378.49 L527.79,378.03 L529.74,377.56 L531.70,377.10 L533.66,376.63 L535.61,376.16 L537.57,375.68 L539.52,375.21 L541.48,374.73" stroke="#1e4097" stroke-width="2.5" fill="none"/>
<path d="M81.52,441.39 L83.53,441.25 L85.54,441.11 L87.56,440.97 L89.57,440.83 L91.58,440.68 L93.59,440.54 L95.60,440.39 L97.61,440.24 L99.62,440.09 L101.63,439.93 L103.64,439.78 L105.64,439.62 L107.65,439.46 L109.66,439.30 L111.67,439.13 L113.68,438.96 L115.69,438.80 L117.70,438.63 L119.71,438.46 L121.71,438.28 L123.72,438.11 L125.73,437.93 L127.74,437.75 L129.75,437.57 L131.75,437.39 L133.76,437.20 L135.77,437.01 L137.77,436.82 L139.78,436.63 L141.79,436.44 L143.79,436.25 L145.80,436.05 L147.81,435.85 L149.81,435.65 L151.82,435.45 L153.82,435.25 L155.83,435.04 L157.83,434.83 L159.84,434.63 L161.84,434.41 L163.85,434.20 L165.85,433.99 L167.86,433.77 L169.86,433.55 L171.87,433.33 L173.87,433.11 L175.87,432.89 L177.88,432.66 L179.88,432.43 L181.88,432.21 L183.89,431.97 L185.89,431.74 L187.89,431.51 L189.89,431.27 L191.89,431.03 L193.90,430.79 L195.90,430.55 L197.90,430.31 L199.90,430.07 L201.90,429.82 L203.90,429.57 L205.90,429.32 L207.90,429.07 L209.90,428.82 L211.91,428.56 L213.90,428.30 L215.90,428.05 L217.90,427.79 L219.90,427.52 L221.90,427.26 L223.90,426.99 L225.90,426.73 L227.90,426.46 L229.90,426.19 L231.90,425.92 L233.89,425.64 L235.89,425.37 L237.89,425.09 L239.89,424.81 L241.88,424.53 L243.88,424.25 L245.88,423.97 L247.87,423.68 L249.87,423.39 L251.86,423.11 L253.86,422.82 L255.85,422.52 L257.85,422.23 L259.85,421.94 L261.84,421.64 L263.83,421.34 L265.83,421.04 L267.82,420.74 L269.82,420.44 L271.81,420.13 L273.80,419.83 L275.80,419.52 L277.79,419.21 L279.78,418.90 L281.78,418.59 L283.77,418.27 L285.76,417.96 L287.75,417.64 L289.74,417.32 L291.73,417.00 L293.72,416.68 L295.72,416.36 L297.71,416.03 L299.70,415.71 L301.69,415.38 L303.68,415.05 L305.67,414.72 L307.66,414.39 L309.64,414.05 L311.63,413.72 L313.62,413.38 L315.61,413.04 L317.60,412.70 L319.59,412.36 L321.57,412.02 L323.56,411.67 L325.55,411.33 L327.53,410.98 L329.52,410.63 L331.51,410.28 L333.49,409.93 L335.48,409.58 L337.46,409.22 L339.45,408.87 L341.43,408.51 L343.42,408.15 L345.40,407.79 L347.39,407.43 L349.37,407.07 L351.35,406.70 L353.34,406.34 L355.32,405.97 L357.30,405.60 L359.29,405.23 L361.27,404.86 L363.25,404.49 L365.23,404.11 L367.21,403.74 L369.19,403.36 L371.18,402.98 L373.16,402.60 L375.14,402.22 L377.12,401.84 L379.10,401.46 L381.08,401.07 L383.05,400.69 L385.03,400.30 L387.01,399.91 L388.99,399.52 L390.97,399.13 L392.95,398.74 L394.92,398.34 L396.90,397.95 L398.88,397.55 L400.85,397.15 L402.83,396.75 L404.81,396.35 L406.78,395.95 L408.76,395.55 L410.73,395.14 L412.71,394.73 L414.68,394.33 L416.65,393.92 L418.63,393.51 L420.60,393.10 L422.57,392.69 L424.55,392.27 L426.52,391.86 L428.49,391.44 L430.46,391.03 L432.44,390.61 L434.41,390.19 L436.38,389.77 L438.35,389.34 L440.32,388.92 L442.29,388.50 L444.26,388.07 L446.23,387.64 L448.20,387.22 L450.17,386.79 L452.13,386.36 L454.10,385.93 L456.07,385.49 L458.04,385.06 L460.00,384.62 L461.97,384.19 L463.94,383.75 L465.90,383.31 L467.87,382.87 L469.84,382.43 L471.80,381.99 L473.77,381.55" stroke="#1e4097" stroke-width="2.5" fill="none"/>
<path d="M81.48,442.51 L83.50,442.41 L85.52,442.30 L87.53,442.19 L89.55,442.07 L91.57,441.95 L93.59,441.82 L95.60,441.70 L97.62,441.56 L99.63,441.42 L101.65,441.28 L103.66,441.14 L105.67,440.99 L107.69,440.83 L109.70,440.67 L111.71,440.51 L113.72,440.35 L115.73,440.18 L117.74,440.00 L119.75,439.82 L121.76,439.64 L123.77,439.46 L125.78,439.27 L127.78,439.07 L129.79,438.88 L131.80,438.68 L133.80,438.47 L135.81,438.27 L137.81,438.05 L139.82,437.84 L141.82,437.62 L143.83,437.40 L145.83,437.18 L147.83,436.95 L149.83,436.72 L151.84,436.48 L153.84,436.24 L155.84,436.00 L157.84,435.76 L159.84,435.51 L161.84,435.26 L163.84,435.01 L165.84,434.75 L167.83,434.49 L169.83,434.23 L171.83,433.96 L173.83,433.69 L175.82,433.42 L177.82,433.14 L179.81,432.87 L181.81,432.59 L183.81,432.30 L185.80,432.02 L187.79,431.73 L189.79,431.44 L191.78,431.15 L193.77,430.85 L195.77,430.55 L197.76,430.25 L199.75,429.95 L201.74,429.64 L203.74,429.33 L205.73,429.02 L207.72,428.71 L209.71,428.40 L211.70,428.08 L213.69,427.76 L215.68,427.44 L217.67,427.11 L219.66,426.79 L221.64,426.46 L223.63,426.13 L225.62,425.80 L227.61,425.46 L229.60,425.13 L231.58,424.79 L233.57,424.45 L235.56,424.11 L237.54,423.77 L239.53,423.42 L241.52,423.07 L243.50,422.73 L245.49,422.38 L247.47,422.03 L249.46,421.67 L251.44,421.32 L253.43,420.96 L255.41,420.60 L257.39,420.24 L259.38,419.88 L261.36,419.52 L263.34,419.16 L265.33,418.79 L267.31,418.43 L269.29,418.06 L271.28,417.69 L273.26,417.33 L275.24,416.96 L277.22,416.58 L279.21,416.21 L281.19,415.84 L283.17,415.46 L285.15,415.09 L287.13,414.71 L289.11,414.34 L291.09,413.96 L293.07,413.58 L295.05,413.20 L297.04,412.82 L299.02,412.44 L301.00,412.06 L302.98,411.67 L304.96,411.29 L306.94,410.91 L308.92,410.53 L310.90,410.14 L312.88,409.76 L314.86,409.37 L316.83,408.99 L318.81,408.60 L320.79,408.21 L322.77,407.83 L324.75,407.44 L326.73,407.05 L328.71,406.67 L330.69,406.28 L332.67,405.89 L334.65,405.51 L336.63,405.12 L338.60,404.73 L340.58,404.35 L342.56,403.96 L344.54,403.57 L346.52,403.19 L348.50,402.80 L350.48,402.41 L352.46,402.03 L354.43,401.64 L356.41,401.26 L358.39,400.87 L360.37,400.49 L362.35,400.10 L364.33,399.72 L366.31,399.33 L368.29,398.95 L370.26,398.57 L372.24,398.19 L374.22,397.81 L376.20,397.43 L378.18,397.05 L380.16,396.67 L382.14,396.29 L384.12,395.92 L386.10,395.54 L388.08,395.16 L390.06,394.79 L392.04,394.42 L394.02,394.05 L395.99,393.67 L397.97,393.30" stroke="#1e4097" stroke-width="2.5" fill="none"/>
<path d="M81.46,458.67 L83.49,458.55 L85.53,458.43 L87.56,458.29 L89.58,458.15 L91.61,458.01 L93.64,457.86 L95.66,457.70 L97.69,457.53 L99.71,457.36 L101.74,457.18 L103.76,457.00 L105.78,456.81 L107.80,456.61 L109.82,456.41 L111.83,456.20 L113.85,455.99 L115.86,455.77 L117.88,455.54 L119.89,455.31 L121.90,455.07 L123.91,454.83 L125.92,454.58 L127.93,454.33 L129.94,454.07 L131.95,453.80 L133.96,453.53 L135.96,453.25 L137.96,452.97 L139.97,452.68 L141.97,452.39 L143.97,452.09 L145.97,451.78 L147.97,451.47 L149.97,451.16 L151.97,450.84 L153.96,450.52 L155.96,450.19 L157.95,449.85 L159.95,449.51 L161.94,449.17 L163.93,448.82 L165.92,448.46 L167.91,448.10 L169.90,447.74 L171.89,447.37 L173.88,446.99 L175.86,446.62 L177.85,446.23 L179.83,445.85 L181.82,445.45 L183.80,445.06 L185.78,444.66 L187.76,444.25 L189.74,443.84 L191.72,443.43 L193.70,443.01 L195.68,442.59 L197.65,442.16 L199.63,441.73 L201.61,441.30 L203.58,440.86 L205.55,440.41 L207.53,439.97 L209.50,439.52 L211.47,439.06 L213.44,438.60 L215.41,438.14 L217.38,437.68 L219.35,437.21 L221.31,436.74 L223.28,436.26 L225.24,435.78 L227.21,435.30 L229.17,434.81 L231.14,434.32 L233.10,433.82 L235.06,433.33 L237.02,432.83 L238.98,432.32 L240.94,431.82 L242.90,431.31 L244.86,430.79 L246.81,430.28 L248.77,429.76 L250.73,429.24 L252.68,428.71 L254.64,428.18 L256.59,427.65 L258.54,427.12 L260.50,426.58 L262.45,426.04 L264.40,425.50 L266.35,424.96 L268.30,424.41 L270.25,423.86 L272.19,423.31 L274.14,422.75 L276.09,422.20 L278.04,421.64 L279.98,421.08 L281.93,420.51 L283.87,419.95 L285.81,419.38 L287.76,418.81 L289.70,418.24 L291.64,417.66 L293.58,417.09 L295.52,416.51 L297.46,415.93 L299.40,415.35 L301.34,414.76 L303.28,414.18 L305.22,413.59 L307.15,413.00 L309.09,412.41 L311.03,411.82 L312.96,411.22 L314.90,410.63 L316.83,410.03 L318.76,409.43 L320.70,408.83 L322.63,408.23 L324.56,407.63 L326.49,407.02 L328.42,406.42 L330.35,405.81 L332.28,405.21 L334.21,404.60 L336.14,403.99 L338.07,403.38 L340.00,402.77 L341.92,402.15" stroke="#1e4097" stroke-width="2.5" fill="none"/>
<circle cx="362.7" cy="171.3" r="5.9" fill="#1f1b1c"/>
<rect x="323.0" y="145.0" width="24.0" height="16.0" fill="#fff"/><text x="336.3" y="158.1" font-size="16.6" fill="#1e4097" text-anchor="middle">73</text>
<rect x="311.0" y="208.0" width="20.5" height="16.0" fill="#fff"/><text x="321.2" y="221.0" font-size="16.6" fill="#1e4097" text-anchor="middle">70</text>
<text x="435.3" y="324.7" font-size="16.6" fill="#1e4097" text-anchor="middle">71</text>
<rect x="266.0" y="306.0" width="20.0" height="22.0" fill="#fff"/><text x="276.0" y="323.0" font-size="16.6" fill="#1e4097" text-anchor="middle">65</text>
<text x="355.0" y="461.6" font-size="16.6" fill="#1e4097" text-anchor="middle">63</text>
<rect x="475.0" y="416.0" width="20.0" height="16.0" fill="#fff"/><text x="484.6" y="431.0" font-size="16.6" fill="#1e4097" text-anchor="middle">73</text>
<text x="636.0" y="389.0" font-size="16.6" fill="#1e4097" text-anchor="middle">82</text>
<rect x="516" y="213" width="114.5" height="27" fill="#fff"/>
<text x="517" y="233.4" font-size="17" fill="#1e4097">77<tspan dx="7">Lw [dB(A)]</tspan></text>
<rect x="364.5" y="144" width="60" height="18" fill="#fff"/>
<text transform="translate(366.00 163.20) scale(1.055 1)" font-size="21.20" fill="#1f1b1c"><tspan font-size="17.6" dy="-2.0">η</tspan><tspan dx="4.2" dy="2.0">max</tspan></text>
<g transform="translate(468.0 196.5) rotate(26.5)"><rect x="-21.5" y="-9.8" width="43.0" height="19.5" fill="#fff"/><text x="0" y="6.1" font-size="17.0" text-anchor="middle" fill="#1f1b1c">400V</text></g>
<g transform="translate(420.0 234.6) rotate(36.0)"><rect x="-21.5" y="-9.8" width="43.0" height="19.5" fill="#fff"/><text x="0" y="6.1" font-size="17.0" text-anchor="middle" fill="#1f1b1c">300V</text></g>
<g transform="translate(385.0 268.5) rotate(45.0)"><rect x="-21.5" y="-9.8" width="43.0" height="19.5" fill="#fff"/><text x="0" y="6.1" font-size="17.0" text-anchor="middle" fill="#1f1b1c">250V</text></g>
<g transform="translate(344.0 318.0) rotate(55.5)"><rect x="-21.5" y="-9.8" width="43.0" height="19.5" fill="#fff"/><text x="0" y="6.1" font-size="17.0" text-anchor="middle" fill="#1f1b1c">200V</text></g>
<g transform="translate(303.0 359.5) rotate(58.0)"><rect x="-21.5" y="-9.8" width="43.0" height="19.5" fill="#fff"/><text x="0" y="6.1" font-size="17.0" text-anchor="middle" fill="#1f1b1c">160V</text></g>
<path d="M82,84V498.6 M73,85H650 M73,490H658" stroke="#1f1b1c" stroke-width="2" fill="none"/>
<path d="M73,423H82 M73,355H82 M73,288H82 M73,220H82 M73,153H82 M82,490V498.6 M145,490V498.6 M208,490V498.6 M271,490V498.6 M334,490V498.6 M397,490V498.6 M460,490V498.6 M523,490V498.6 M586,490V498.6 M648,490V498.6" stroke="#1f1b1c" stroke-width="2" fill="none"/>
<path d="M77,474H82 M77,457H82 M77,440H82 M77,406H82 M77,389H82 M77,372H82 M77,339H82 M77,322H82 M77,305H82 M77,271H82 M77,254H82 M77,237H82 M77,204H82 M77,187H82 M77,170H82 M77,136H82 M77,119H82 M77,102H82 M98,490V494.8 M113,490V494.8 M129,490V494.8 M161,490V494.8 M176,490V494.8 M192,490V494.8 M224,490V494.8 M239,490V494.8 M255,490V494.8 M287,490V494.8 M302,490V494.8 M318,490V494.8 M349,490V494.8 M365,490V494.8 M381,490V494.8 M412,490V494.8 M428,490V494.8 M444,490V494.8 M475,490V494.8 M491,490V494.8 M507,490V494.8 M538,490V494.8 M554,490V494.8 M570,490V494.8 M601,490V494.8 M617,490V494.8 M633,490V494.8" stroke="#1f1b1c" stroke-width="1.7" fill="none"/>
<path d="M649,84V248" stroke="#6e0c18" stroke-width="2" fill="none"/>
<path d="M650,85.0H657.5 M650,139.3H657.5 M650,193.7H657.5 M650,248.0H657.5" stroke="#6e0c18" stroke-width="1.7" fill="none"/>
<path d="M650,98.6H653 M650,112.2H653 M650,125.7H653 M650,152.9H653 M650,166.5H653 M650,180.1H653 M650,207.2H653 M650,220.8H653 M650,234.4H653" stroke="#6e0c18" stroke-width="1.3" fill="none"/>
<path d="M649,248V491" stroke="#1f1b1c" stroke-width="2" fill="none"/>
<path d="M650,436.0H658 M650,382.0H658 M650,328.0H658" stroke="#1f1b1c" stroke-width="2" fill="none"/>
<path d="M650,479.2H654 M650,468.4H654 M650,457.6H654 M650,446.8H654 M650,425.2H654 M650,414.4H654 M650,403.6H654 M650,392.8H654 M650,371.2H654 M650,360.4H654 M650,349.6H654 M650,338.8H654" stroke="#1f1b1c" stroke-width="1.6" fill="none"/>
<text transform="translate(65.30 498.00) scale(0.950 1)" font-size="22.20" fill="#1f1b1c" text-anchor="end" stroke="#1f1b1c" stroke-width="0.30">0</text>
<text transform="translate(65.30 430.50) scale(0.950 1)" font-size="22.20" fill="#1f1b1c" text-anchor="end" stroke="#1f1b1c" stroke-width="0.30">50</text>
<text transform="translate(65.30 363.00) scale(0.950 1)" font-size="22.20" fill="#1f1b1c" text-anchor="end" stroke="#1f1b1c" stroke-width="0.30">100</text>
<text transform="translate(65.30 295.50) scale(0.950 1)" font-size="22.20" fill="#1f1b1c" text-anchor="end" stroke="#1f1b1c" stroke-width="0.30">150</text>
<text transform="translate(65.30 228.00) scale(0.950 1)" font-size="22.20" fill="#1f1b1c" text-anchor="end" stroke="#1f1b1c" stroke-width="0.30">200</text>
<text transform="translate(65.30 160.50) scale(0.950 1)" font-size="22.20" fill="#1f1b1c" text-anchor="end" stroke="#1f1b1c" stroke-width="0.30">250</text>
<text transform="translate(65.30 93.00) scale(0.950 1)" font-size="22.20" fill="#1f1b1c" text-anchor="end" stroke="#1f1b1c" stroke-width="0.30">300</text>
<text transform="translate(82.00 527.00) scale(0.950 1)" font-size="22.20" fill="#1f1b1c" text-anchor="middle" stroke="#1f1b1c" stroke-width="0.30">0</text>
<text transform="translate(144.94 527.00) scale(0.950 1)" font-size="22.20" fill="#1f1b1c" text-anchor="middle" stroke="#1f1b1c" stroke-width="0.30">400</text>
<text transform="translate(207.88 527.00) scale(0.950 1)" font-size="22.20" fill="#1f1b1c" text-anchor="middle" stroke="#1f1b1c" stroke-width="0.30">800</text>
<text transform="translate(270.81 527.00) scale(0.950 1)" font-size="22.20" fill="#1f1b1c" text-anchor="middle" stroke="#1f1b1c" stroke-width="0.30">1200</text>
<text transform="translate(333.75 527.00) scale(0.950 1)" font-size="22.20" fill="#1f1b1c" text-anchor="middle" stroke="#1f1b1c" stroke-width="0.30">1600</text>
<text transform="translate(396.69 527.00) scale(0.950 1)" font-size="22.20" fill="#1f1b1c" text-anchor="middle" stroke="#1f1b1c" stroke-width="0.30">2000</text>
<text transform="translate(459.62 527.00) scale(0.950 1)" font-size="22.20" fill="#1f1b1c" text-anchor="middle" stroke="#1f1b1c" stroke-width="0.30">2400</text>
<text transform="translate(522.56 527.00) scale(0.950 1)" font-size="22.20" fill="#1f1b1c" text-anchor="middle" stroke="#1f1b1c" stroke-width="0.30">2800</text>
<text transform="translate(585.50 527.00) scale(0.950 1)" font-size="22.20" fill="#1f1b1c" text-anchor="middle" stroke="#1f1b1c" stroke-width="0.30">3200</text>
<text transform="translate(621.00 527.00) scale(0.950 1)" font-size="22.20" fill="#1f1b1c" stroke="#1f1b1c" stroke-width="0.30">Q (m<tspan font-size="13" dy="-8">3</tspan><tspan dy="8">/h)</tspan></text>
<text transform="translate(665.40 92.50) scale(0.950 1)" font-size="22.20" fill="#c2161f" stroke="#c2161f" stroke-width="0.12">1.200</text>
<text transform="translate(665.40 146.83) scale(0.950 1)" font-size="22.20" fill="#c2161f" stroke="#c2161f" stroke-width="0.12">800</text>
<text transform="translate(665.40 201.16) scale(0.950 1)" font-size="22.20" fill="#c2161f" stroke="#c2161f" stroke-width="0.12">400</text>
<text transform="translate(665.40 255.49) scale(0.950 1)" font-size="22.20" fill="#c2161f" stroke="#c2161f" stroke-width="0.12">0</text>
<text transform="translate(665.40 307.00) scale(0.930 1)" font-size="24.50" fill="#1f1b1c">I<tspan font-size="17" dx="-0.3">[A]</tspan></text>
<text transform="translate(666.00 498.00) scale(0.950 1)" font-size="22.20" fill="#1f1b1c" stroke="#1f1b1c" stroke-width="0.30">0,0</text>
<text transform="translate(666.00 444.00) scale(0.950 1)" font-size="22.20" fill="#1f1b1c" stroke="#1f1b1c" stroke-width="0.30">0,5</text>
<text transform="translate(666.00 390.00) scale(0.950 1)" font-size="22.20" fill="#1f1b1c" stroke="#1f1b1c" stroke-width="0.30">1,0</text>
<text transform="translate(666.00 336.00) scale(0.950 1)" font-size="22.20" fill="#1f1b1c" stroke="#1f1b1c" stroke-width="0.30">1,5</text>
<rect x="7.0" y="564" width="70.0" height="33.6" fill="#f9d9ca"/>
<text x="45.30" y="589.70" font-size="23.70" fill="#1f1b1c" text-anchor="middle">MC</text>
<text x="45.30" y="627.00" font-size="23.70" fill="#1f1b1c" text-anchor="middle">B</text>
<rect x="82.0" y="564" width="67.0" height="33.6" fill="#f9d9ca"/>
<text x="115.50" y="589.70" font-size="23.70" fill="#1f1b1c" text-anchor="middle">EC</text>
<text x="115.50" y="627.00" font-size="23.70" fill="#1f1b1c" text-anchor="middle">Total</text>
<rect x="154.6" y="564" width="66.4" height="33.6" fill="#f9d9ca"/>
<text x="187.80" y="589.70" font-size="23.70" fill="#1f1b1c" text-anchor="middle">VSD</text>
<text x="187.80" y="627.00" font-size="23.70" fill="#1f1b1c" text-anchor="middle">Ne</text>
<rect x="226.0" y="564" width="67.7" height="33.6" fill="#f9d9ca"/>
<text x="259.85" y="589.70" font-size="23.70" fill="#1f1b1c" text-anchor="middle">SR</text>
<text transform="translate(259.85 627.00) scale(0.900 1)" font-size="24.50" fill="#1f1b1c" text-anchor="middle">1</text>
<rect x="299.0" y="564" width="67.0" height="33.6" fill="#f9d9ca"/>
<text x="332.50" y="589.70" font-size="23.70" fill="#1f1b1c" text-anchor="middle">η[%]</text>
<text transform="translate(332.50 627.00) scale(0.900 1)" font-size="24.50" fill="#1f1b1c" text-anchor="middle">46,6</text>
<rect x="371.4" y="564" width="66.4" height="33.6" fill="#f9d9ca"/>
<text x="404.60" y="589.70" font-size="23.70" fill="#1f1b1c" text-anchor="middle">N</text>
<text transform="translate(404.60 627.00) scale(0.900 1)" font-size="24.50" fill="#1f1b1c" text-anchor="middle">56,5</text>
<rect x="443.4" y="564" width="67.4" height="33.6" fill="#f9d9ca"/>
<text x="477.10" y="589.70" font-size="23.70" fill="#1f1b1c" text-anchor="middle">[kW]</text>
<text transform="translate(477.10 627.00) scale(0.900 1)" font-size="24.50" fill="#1f1b1c" text-anchor="middle">0,273</text>
<rect x="515.0" y="564" width="68.2" height="33.6" fill="#f9d9ca"/>
<text x="549.10" y="589.70" font-size="23.70" fill="#1f1b1c" text-anchor="middle">[m<tspan font-size="14" dy="-8">3</tspan><tspan dy="8">/h]</tspan></text>
<text transform="translate(549.10 627.00) scale(0.900 1)" font-size="24.50" fill="#1f1b1c" text-anchor="middle">1774</text>
<rect x="588.0" y="564" width="67.0" height="33.6" fill="#f9d9ca"/>
<text x="621.50" y="589.70" font-size="23.70" fill="#1f1b1c" text-anchor="middle">[Pa]</text>
<text transform="translate(621.50 627.00) scale(0.900 1)" font-size="24.50" fill="#1f1b1c" text-anchor="middle">258</text>
<rect x="659.7" y="564" width="74.3" height="33.6" fill="#f9d9ca"/>
<text x="696.85" y="589.70" font-size="23.70" fill="#1f1b1c" text-anchor="middle">[RPM]</text>
<text transform="translate(696.85 627.00) scale(0.900 1)" font-size="24.50" fill="#1f1b1c" text-anchor="middle">931</text>
</svg></body></html>
